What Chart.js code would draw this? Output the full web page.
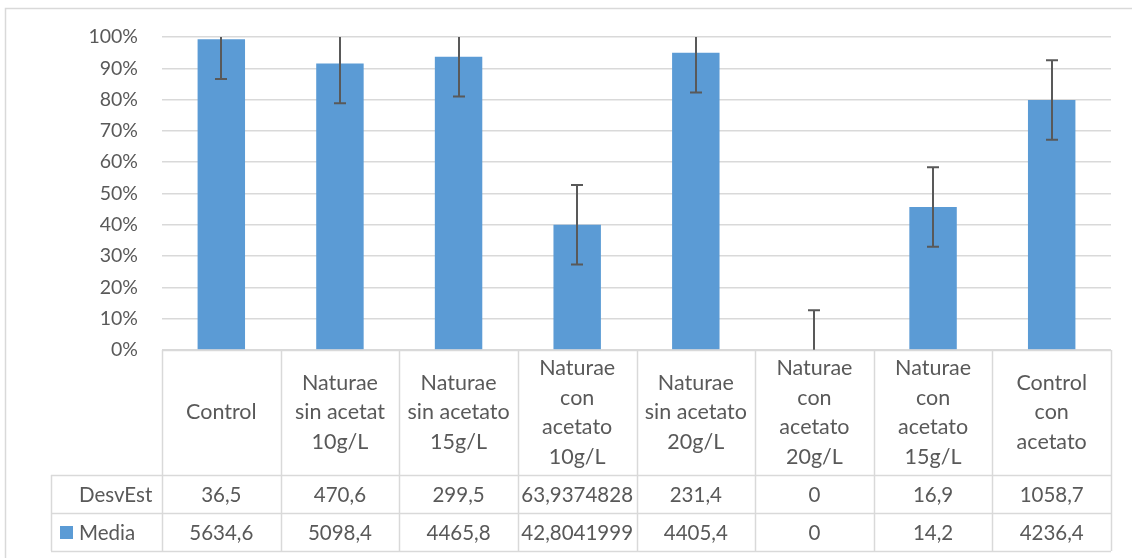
<!DOCTYPE html>
<html>
<head>
<meta charset="utf-8">
<script src="https://cdn.jsdelivr.net/npm/chart.js@4.4.1/dist/chart.umd.min.js"></script>
<style>
  html, body { margin: 0; padding: 0; background: #fff; }
  #contenedor { position: relative; width: 1132px; height: 558px; }
</style>
</head>
<body>
<div id="contenedor"><canvas id="grafico"></canvas></div>
<script>
// Datos del gráfico (porcentaje de la media respecto al control)
const categorias = [
    ['Control'],
    ['Naturae', 'sin acetat', '10g/L'],
    ['Naturae', 'sin acetato', '15g/L'],
    ['Naturae', 'con', 'acetato', '10g/L'],
    ['Naturae', 'sin acetato', '20g/L'],
    ['Naturae', 'con', 'acetato', '20g/L'],
    ['Naturae', 'con', 'acetato', '15g/L'],
    ['Control', 'con', 'acetato']
];
const porcentajes = [99.3, 91.5, 93.7, 40.0, 95.0, 0, 45.7, 79.9];
const errores = [12.7, 12.7, 12.7, 12.7, 12.7, 12.7, 12.7, 12.7];

// Tabla de datos bajo el gráfico
const tablaDesvEst = ['36,5', '470,6', '299,5', '63,9374828', '231,4', '0', '16,9', '1058,7'];
const tablaMedia = ['5634,6', '5098,4', '4465,8', '42,8041999', '4405,4', '0', '14,2', '4236,4'];
const ticksY = [0, 10, 20, 30, 40, 50, 60, 70, 80, 90, 100];

const AZUL = '#5B9BD5';
const GRIS_TEXTO = '#595959';
const GRIS_LINEA = '#d9d9d9';
const FUENTE = 'Lato';
const TAM = 20.5;       // números de la tabla
const TAM_CAT = 21.5;   // nombres de categoría
const TAM_EJE = 19.5;   // eje Y

Chart.defaults.font.family = FUENTE;
Chart.defaults.color = GRIS_TEXTO;

// Marco exterior del gráfico
const marcoPlugin = {
    id: 'marco',
    beforeDraw(chart) {
        const ctx = chart.ctx;
        ctx.save();
        ctx.fillStyle = '#fff';
        ctx.fillRect(0, 0, chart.width, chart.height);
        ctx.strokeStyle = GRIS_LINEA;
        ctx.lineWidth = 1.5;
        ctx.strokeRect(5.5, 8.5, 2000, 2000);
        ctx.restore();
    }
};

// Barras de error
const erroresPlugin = {
    id: 'barrasError',
    afterDatasetsDraw(chart) {
        const { ctx, chartArea, scales: { y } } = chart;
        const meta = chart.getDatasetMeta(0);
        ctx.save();
        ctx.beginPath();
        ctx.rect(chartArea.left, chartArea.top, chartArea.right - chartArea.left, chartArea.bottom - chartArea.top);
        ctx.clip();
        ctx.strokeStyle = GRIS_TEXTO;
        ctx.lineWidth = 2;
        meta.data.forEach((barra, i) => {
            const v = porcentajes[i], e = errores[i];
            const x = Math.round(barra.x);
            const yArriba = y.getPixelForValue(v + e);
            const yAbajo = y.getPixelForValue(v - e);
            ctx.beginPath();
            ctx.moveTo(x, yArriba);
            ctx.lineTo(x, yAbajo);
            ctx.moveTo(x - 6, yArriba);
            ctx.lineTo(x + 6, yArriba);
            ctx.moveTo(x - 6, yAbajo);
            ctx.lineTo(x + 6, yAbajo);
            ctx.stroke();
        });
        ctx.restore();
    }
};

// Tabla de datos
const tablaPlugin = {
    id: 'tabla',
    afterDraw(chart) {
        const { ctx, chartArea, scales: { x } } = chart;
        const n = chart.data.labels.length;
        const ancho = (chartArea.right - chartArea.left) / n;
        const y0 = Math.round(chartArea.bottom);
        const y1 = y0 + 125, y2 = y1 + 38, y3 = y2 + 38;
        const xTabla = 51;
        const derecha = Math.round(chartArea.right);

        ctx.save();
        ctx.strokeStyle = GRIS_LINEA;
        ctx.lineWidth = 1.5;
        const linea = (ax, ay, bx, by) => {
            ctx.beginPath();
            ctx.moveTo(ax, ay);
            ctx.lineTo(bx, by);
            ctx.stroke();
        };
        linea(chartArea.left, y0 + 0.5, derecha, y0 + 0.5);
        [y1, y2, y3].forEach(yy => linea(xTabla, yy + 0.5, derecha, yy + 0.5));
        linea(xTabla + 0.5, y1, xTabla + 0.5, y3);
        for (let i = 0; i <= n; i++) {
            const xx = Math.round(x.getPixelForValue(0) - ancho / 2 + i * ancho) + 0.5;
            linea(xx, y0, xx, y3);
        }

        ctx.fillStyle = GRIS_TEXTO;
        ctx.textBaseline = 'middle';
        ctx.textAlign = 'center';
        const altoLinea = 29.7;
        const centroCat = (y0 + y1) / 2;
        categorias.forEach((lineas, i) => {
            const cx = x.getPixelForValue(i);
            const inicio = centroCat - (lineas.length - 1) * altoLinea / 2;
            ctx.font = TAM_CAT + 'px ' + FUENTE;
            lineas.forEach((t, j) => ctx.fillText(t, cx, inicio + j * altoLinea));
            ctx.font = TAM + 'px ' + FUENTE;
            ctx.fillText(tablaDesvEst[i], cx, (y1 + y2) / 2 + 1);
            ctx.fillText(tablaMedia[i], cx, (y2 + y3) / 2 + 1);
        });

        ctx.textAlign = 'left';
        ctx.font = TAM + 'px ' + FUENTE;
        ctx.fillText('DesvEst', 79, (y1 + y2) / 2 + 1);
        ctx.fillText('Media', 79, (y2 + y3) / 2 + 1);
        ctx.fillStyle = AZUL;
        ctx.fillRect(60, (y2 + y3) / 2 - 6, 13, 13);
        ctx.restore();
    }
};

new Chart(document.getElementById('grafico'), {
    type: 'bar',
    data: {
        labels: categorias.map(c => c.join(' ')),
        datasets: [{
            label: 'Media',
            data: porcentajes,
            backgroundColor: AZUL,
            borderWidth: 0,
            barPercentage: 0.4,
            categoryPercentage: 1
        }]
    },
    options: {
        responsive: true,
        maintainAspectRatio: false,
        animation: false,
        layout: { padding: { left: 0, top: 37, right: 21, bottom: 208 } },
        plugins: {
            legend: { display: false },
            tooltip: { enabled: false }
        },
        scales: {
            x: { display: false },
            y: {
                min: 0,
                max: 100,
                afterBuildTicks: scale => { scale.ticks = ticksY.map(v => ({ value: v })); },
                afterFit: scale => { scale.width = 162; },
                border: { display: false },
                grid: { color: GRIS_LINEA, lineWidth: 1.5, drawTicks: false },
                ticks: {
                    padding: 24,
                    font: { size: TAM_EJE },
                    color: GRIS_TEXTO,
                    callback: v => v + '%'
                }
            }
        }
    },
    plugins: [marcoPlugin, erroresPlugin, tablaPlugin]
});
</script>
</body>
</html>
